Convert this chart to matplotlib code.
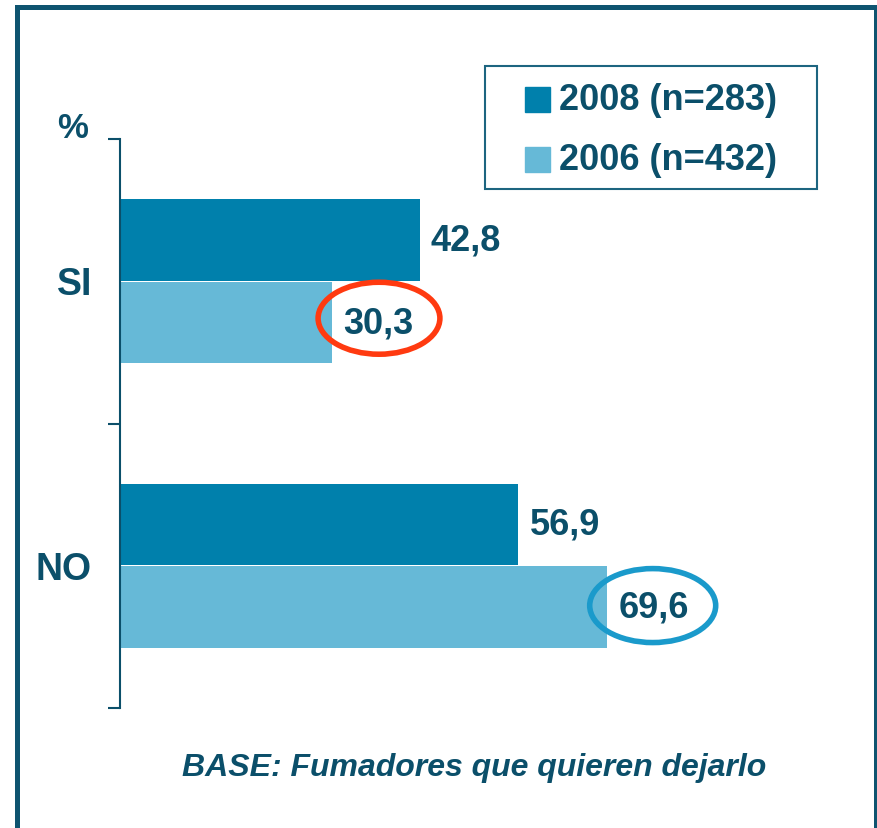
import matplotlib.pyplot as plt
from matplotlib.patches import Ellipse, Rectangle
from matplotlib.transforms import blended_transform_factory

plt.rcParams['font.family'] = ['Liberation Sans', 'DejaVu Sans']

# --- data ---
categories = ["SI", "NO"]
values_2008 = [42.8, 56.9]
values_2006 = [30.3, 69.6]
labels_2008 = ["42,8", "56,9"]
labels_2006 = ["30,3", "69,6"]
series_names = ["2008 (n=283)", "2006 (n=432)"]

dark = "#0080AC"
light = "#66B9D7"
ink = "#0B4F6A"

W, H = 878, 829
fig = plt.figure(figsize=(W / 100, H / 100), dpi=100)
ax = fig.add_axes([120 / W, 1 - 709 / H, 735 / W, 569 / H])


def fx(px):
    return px / W


def fy(py):
    return 1 - py / H


pos = list(range(len(categories)))
h = 0.286
off = 0.145
ax.barh([p - off for p in pos], values_2008, height=h, color=dark)
ax.barh([p + off for p in pos], values_2006, height=h, color=light)

ax.set_xlim(0, 105)
ax.set_ylim(1.5, -0.5)

for p, v, t in zip(pos, values_2008, labels_2008):
    ax.text(v + 1.6, p - off, t, ha="left", va="center", fontsize=26, fontweight="bold", color=ink)
for p, v, t in zip(pos, values_2006, labels_2006):
    ax.text(v + 1.6, p + off, t, ha="left", va="center", fontsize=26, fontweight="bold", color=ink)

# circled highlights
ax.add_patch(Ellipse((values_2006[0] + 6.7, pos[0] + 0.13), 17.4, 0.253,
                     fill=False, edgecolor="#FF3A10", lw=4))
ax.add_patch(Ellipse((values_2006[1] + 6.5, pos[1] + 0.14), 18.0, 0.26,
                     fill=False, edgecolor="#1A9ACB", lw=4))

# axes styling
for s in ["top", "right", "bottom"]:
    ax.spines[s].set_visible(False)
ax.spines["left"].set_color(ink)
ax.spines["left"].set_linewidth(1.5)
ax.set_xticks([])
ax.set_yticks([-0.5, 0.5, 1.5])
ax.set_yticklabels([])
ax.tick_params(axis="y", direction="out", length=9, width=1.5, color=ink)

trans = blended_transform_factory(ax.transAxes, ax.transData)
for p, c in zip(pos, categories):
    ax.text(-28 / 735, p + 0.01, c, transform=trans, ha="right", va="center",
            fontsize=27, fontweight="bold", color=ink)

fig.text(fx(73), fy(129), "%", ha="center", va="center",
         fontsize=25, fontweight="bold", color=ink)

# legend box
fig.patches.append(Rectangle((fx(485), fy(190)), fx(817) - fx(485), fy(67) - fy(190),
                             transform=fig.transFigure, fill=False,
                             edgecolor="#1D6580", lw=1.5))
for (top, col, name) in [(88, dark, series_names[0]), (148, light, series_names[1])]:
    fig.patches.append(Rectangle((fx(525), fy(top + 25)), fx(25), 25 / H,
                                 transform=fig.transFigure, color=col))
    fig.text(fx(559), fy(top + 13), name, ha="left", va="center",
             fontsize=26, fontweight="bold", color=ink)

fig.text(fx(474), fy(768), "BASE: Fumadores que quieren dejarlo",
         ha="center", va="center", fontsize=23, fontweight="bold",
         fontstyle="italic", color=ink)

# outer frame
fig.patches.append(Rectangle((fx(17), -0.1), fx(876) - fx(17), fy(8) + 0.1,
                             transform=fig.transFigure, fill=False,
                             edgecolor="#0E5470", lw=3.6))

fig.savefig("out.png", dpi=100)
